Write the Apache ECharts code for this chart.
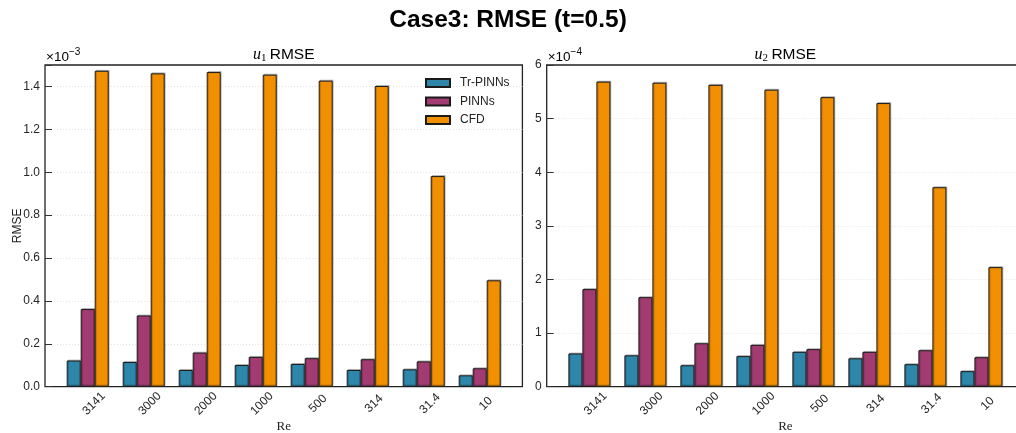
<!DOCTYPE html>
<html>
<head>
<meta charset="utf-8">
<script src="https://cdn.jsdelivr.net/npm/echarts@6/dist/echarts.min.js"></script>
<style>
html,body{margin:0;padding:0;background:#fff;}
#chart{width:1016px;height:433px;}
</style>
</head>
<body>
<div id="chart"></div>
<script>
// Categories (Reynolds numbers)
const categories = ['3141', '3000', '2000', '1000', '500', '314', '31.4', '10'];
const seriesNames = ['Tr-PINNs', 'PINNs', 'CFD'];
const seriesColors = ['#2E86AB', '#A23B72', '#F18F01'];

// u1 RMSE values, in units of 1e-3
const u1TrPinns = [0.122, 0.115, 0.078, 0.101, 0.106, 0.078, 0.081, 0.053];
const u1Pinns   = [0.362, 0.332, 0.159, 0.139, 0.133, 0.128, 0.118, 0.086];
const u1Cfd     = [1.473, 1.461, 1.467, 1.455, 1.427, 1.402, 0.982, 0.496];

// u2 RMSE values, in units of 1e-4
const u2TrPinns = [0.62, 0.585, 0.40, 0.57, 0.65, 0.53, 0.42, 0.29];
const u2Pinns   = [1.82, 1.67, 0.81, 0.78, 0.70, 0.65, 0.68, 0.55];
const u2Cfd     = [5.69, 5.67, 5.63, 5.54, 5.40, 5.29, 3.72, 2.23];

// Axis scales / tick labels
const u1Axis = {min: 0, max: 1.5, interval: 0.2, exponent: '\u22123'};
const u2Axis = {min: 0, max: 6, interval: 1, exponent: '\u22124'};

const FONT = 'Liberation Sans, Arial, Helvetica, sans-serif';
const SERIF = 'Liberation Serif, DejaVu Serif, Times New Roman, serif';

const plotTop = 65, plotH = 321.7, frameW = 477.4, dataW = 448, inset = 14.7, labelShift = 6.3;
const leftX = 45, rightX = 546.7;

function frameGrid(x) {
  return {left: x, top: plotTop, width: frameW, height: plotH, show: true,
          borderColor: '#222', borderWidth: 1.3, backgroundColor: 'transparent',
          containLabel: false, outerBoundsMode: 'none'};
}
function dataGrid(x, shift) {
  return {left: x + inset + shift, top: plotTop, width: dataW, height: plotH,
          containLabel: false, outerBoundsMode: 'none'};
}

function frameYAxis(grid, ax, fmt, withName) {
  const o = {
    type: 'value', gridIndex: grid, min: ax.min, max: ax.max, interval: ax.interval,
    axisLine: {show: false},
    axisTick: {show: true, inside: true, length: 7, lineStyle: {color: '#333', width: 1}},
    axisLabel: {show: true, margin: 5, fontFamily: FONT, fontSize: 12, color: '#262626',
      formatter: v => (Math.abs((v / ax.interval) - Math.round(v / ax.interval)) > 1e-6) ? '' : fmt(v)},
    splitLine: {show: true, showMinLine: false, showMaxLine: false,
      lineStyle: {color: '#e3e3e3', type: [1, 2], width: 1}}
  };
  if (withName) {
    o.name = 'RMSE'; o.nameLocation = 'middle'; o.nameGap = 21; o.nameMoveOverlap = false;
    o.nameTextStyle = {fontFamily: FONT, fontSize: 12, color: '#222'};
  }
  return o;
}
function hiddenYAxis(grid, ax) {
  return {type: 'value', gridIndex: grid, min: ax.min, max: ax.max, interval: ax.interval, show: false,
          splitLine: {show: false}};
}
function frameXAxis(grid) {
  return {type: 'value', gridIndex: grid, min: 0, max: 1, show: false};
}
function dataXAxis(grid) {
  return {
    type: 'category', gridIndex: grid, data: categories,
    axisLine: {show: false}, axisTick: {show: false}, axisLabel: {show: false},
    name: 'Re', nameLocation: 'middle', nameGap: 33,
    nameTextStyle: {fontFamily: SERIF, fontSize: 13, color: '#222'}
  };
}
function labelXAxis(grid) {
  return {
    type: 'category', gridIndex: grid, data: categories,
    axisLine: {show: false}, axisTick: {show: false}, splitLine: {show: false},
    axisLabel: {interval: 0, rotate: 45, align: 'center', verticalAlign: 'middle', margin: 17,
      fontFamily: FONT, fontSize: 12, color: '#262626'}
  };
}

function barSeries(name, color, data, xi, yi) {
  return {
    type: 'bar', name: name, xAxisIndex: xi, yAxisIndex: yi, data: data,
    barWidth: 14, barGap: '0%',
    itemStyle: {color: color, borderColor: '#1a1a1a', borderWidth: 1,
      shadowColor: 'rgba(0,0,0,0.22)', shadowOffsetX: 1, shadowOffsetY: -1, shadowBlur: 0},
    emphasis: {disabled: true}
  };
}

const u1Series = [u1TrPinns, u1Pinns, u1Cfd];
const u2Series = [u2TrPinns, u2Pinns, u2Cfd];

const series = [];
seriesNames.forEach((n, i) => series.push(barSeries(n, seriesColors[i], u1Series[i], 1, 1)));
seriesNames.forEach((n, i) => series.push(barSeries(n, seriesColors[i], u2Series[i], 3, 3)));

function subTitle(x, idx) {
  return {
    type: 'text', x: x, y: 55,
    style: {
      text: '{u|u}{s|' + idx + '} {t|RMSE}', align: 'center', verticalAlign: 'middle',
      rich: {
        u: {fontFamily: SERIF, fontStyle: 'italic', fontSize: 16, color: '#222'},
        s: {fontFamily: SERIF, fontSize: 11, color: '#222', padding: [6, 0, 0, 0]},
        t: {fontFamily: FONT, fontSize: 15.5, color: '#111'}
      }
    }
  };
}
function expLabel(x, exp) {
  return {
    type: 'text', x: x, y: 64,
    style: {
      text: '{a|\u00d710}{s|' + exp + '}', align: 'left', verticalAlign: 'bottom',
      rich: {
        a: {fontFamily: FONT, fontSize: 13.5, color: '#262626', lineHeight: 15, verticalAlign: 'bottom'},
        s: {fontFamily: FONT, fontSize: 10, color: '#262626', verticalAlign: 'top', padding: [0, 0, 7, 0]}
      }
    }
  };
}

const option = {
  backgroundColor: '#ffffff',
  animation: false,
  title: {
    text: 'Case3: RMSE (t=0.5)', left: 'center', top: 3,
    textStyle: {fontFamily: FONT, fontSize: 24.5, fontWeight: 'bold', color: '#000'}
  },
  legend: {
    data: seriesNames, orient: 'vertical', left: 420, top: 72,
    itemWidth: 24, itemHeight: 8, itemGap: 6.5,
    textStyle: {fontFamily: FONT, fontSize: 12, color: '#222', padding: [0, 0, 0, 5]},
    icon: 'rect', selectedMode: false
  },
  grid: [frameGrid(leftX), dataGrid(leftX, 0), frameGrid(rightX), dataGrid(rightX, 0),
         dataGrid(leftX, labelShift), dataGrid(rightX, labelShift)],
  xAxis: [frameXAxis(0), dataXAxis(1), frameXAxis(2), dataXAxis(3), labelXAxis(4), labelXAxis(5)],
  yAxis: [
    frameYAxis(0, u1Axis, v => v.toFixed(1), true),
    hiddenYAxis(1, u1Axis),
    frameYAxis(2, u2Axis, v => String(Math.round(v)), false),
    hiddenYAxis(3, u2Axis),
    hiddenYAxis(4, u1Axis),
    hiddenYAxis(5, u2Axis)
  ],
  graphic: [
    subTitle(leftX + frameW / 2, 1),
    subTitle(rightX + frameW / 2, 2),
    expLabel(leftX + 1, u1Axis.exponent),
    expLabel(rightX + 1, u2Axis.exponent)
  ],
  series: series
};

const chart = echarts.init(document.getElementById('chart'), null, {renderer: 'canvas'});
chart.setOption(option);
</script>
</body>
</html>
